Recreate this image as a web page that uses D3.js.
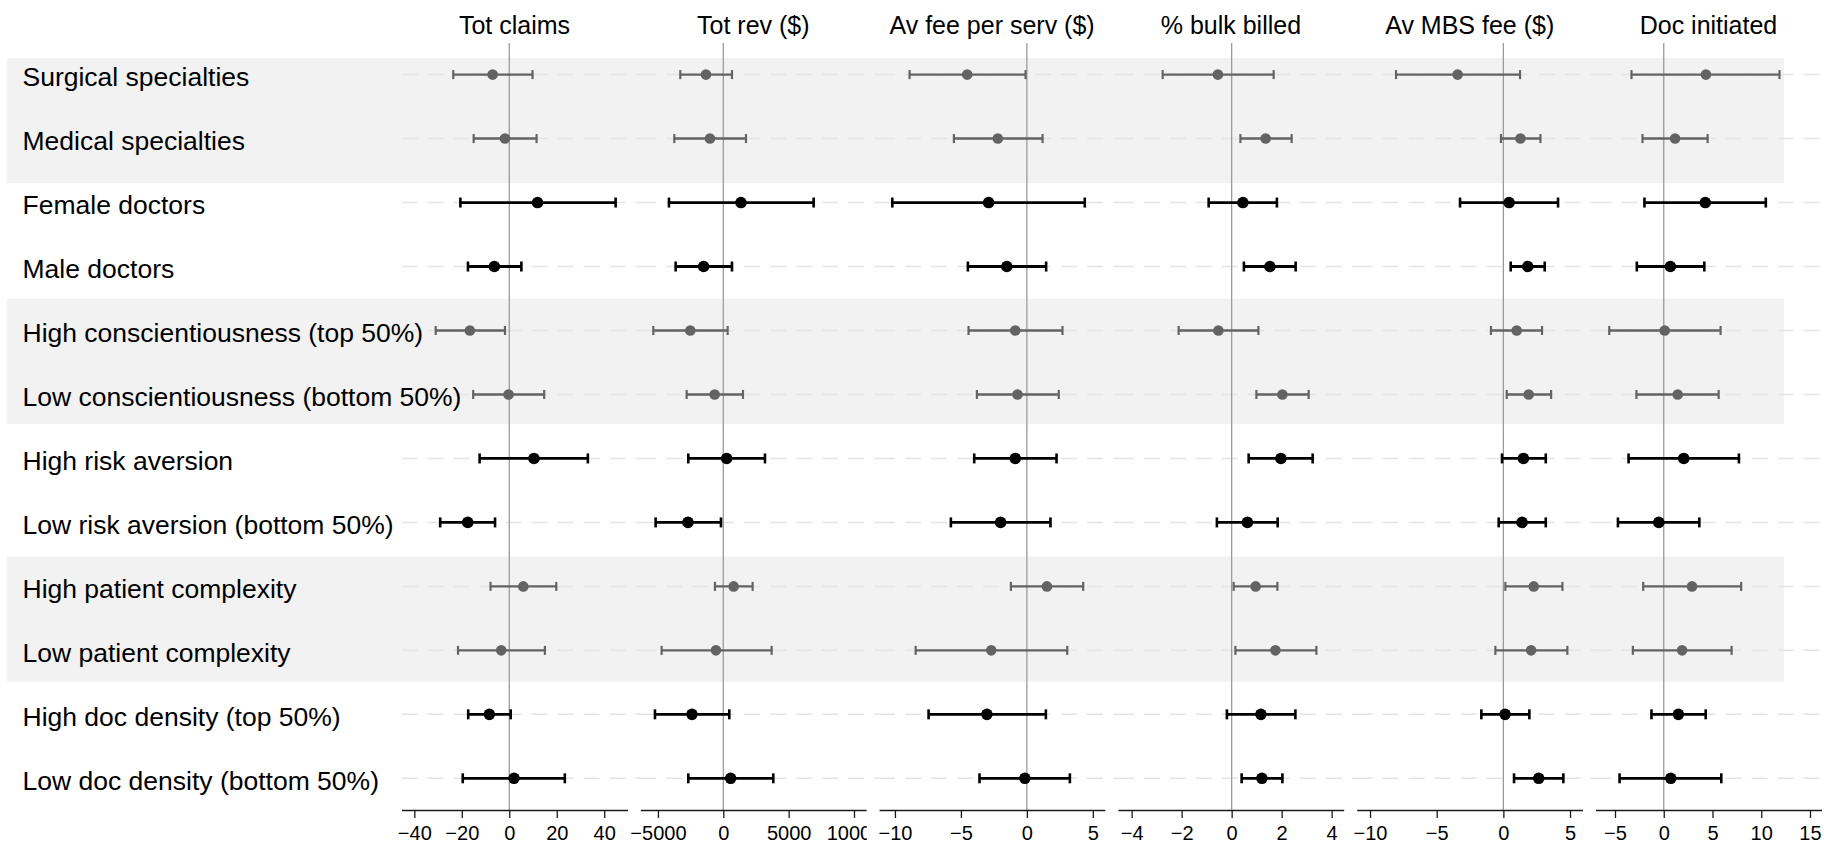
<!DOCTYPE html>
<html>
<head>
<meta charset="utf-8">
<script src="https://cdn.jsdelivr.net/npm/d3@7"></script>
<style>
  html, body { margin: 0; padding: 0; background: #fff; }
  svg { display: block; font-family: "Liberation Sans", Arial, Helvetica, sans-serif; }
</style>
</head>
<body>
<svg id="chart" width="1824" height="842"></svg>
<script>
// Subgroup labels, top to bottom
const groups = [
  "Surgical specialties",
  "Medical specialties",
  "Female doctors",
  "Male doctors",
  "High conscientiousness (top 50%)",
  "Low conscientiousness (bottom 50%)",
  "High risk aversion",
  "Low risk aversion (bottom 50%)",
  "High patient complexity",
  "Low patient complexity",
  "High doc density (top 50%)",
  "Low doc density (bottom 50%)"
];

// Which subgroups sit on a shaded band (drawn in grey)
const shaded = [true, true, false, false, true, true, false, false, true, true, false, false];

// Outcome panels
const outcomes = ["Tot claims", "Tot rev ($)", "Av fee per serv ($)", "% bulk billed", "Av MBS fee ($)", "Doc initiated"];

// Axis ranges and tick values for each outcome
const xDomains = [[-45.4, 49.8], [-6350, 10940], [-11.2, 5.93], [-4.55, 4.49], [-11.0, 5.95], [-7.0, 16.18]];
const tickValues = [
  [-40, -20, 0, 20, 40],
  [-5000, 0, 5000, 10000],
  [-10, -5, 0, 5],
  [-4, -2, 0, 2, 4],
  [-10, -5, 0, 5],
  [-5, 0, 5, 10, 15]
];

// Point estimates per outcome (one value per subgroup)
const estTotClaims = [-7.0, -1.8, 11.9, -6.3, -16.6, -0.3, 10.4, -17.5, 5.9, -3.4, -8.4, 2.0];
const estTotRev    = [-1326, -1020, 1352, -1505, -2525, -663, 255, -2703, 791, -561, -2397, 561];
const estAvFee     = [-4.52, -2.20, -2.90, -1.52, -0.88, -0.71, -0.88, -1.99, 1.52, -2.70, -3.03, -0.15];
const estBulk      = [-0.55, 1.36, 0.45, 1.53, -0.53, 2.03, 1.97, 0.63, 0.96, 1.75, 1.17, 1.21];
const estMBS       = [-3.43, 1.28, 0.43, 1.83, 1.00, 1.90, 1.50, 1.40, 2.28, 2.08, 0.13, 2.65];
const estDocInit   = [4.33, 1.16, 4.26, 0.68, 0.10, 1.43, 2.05, -0.51, 2.90, 1.88, 1.50, 0.72];

// Lower 95% confidence limits
const loTotClaims = [-23.6, -15.0, -20.6, -17.4, -31.0, -15.2, -12.5, -29.1, -7.9, -21.6, -17.3, -19.6];
const loTotRev    = [-3290, -3749, -4157, -3647, -5355, -2805, -2678, -5177, -638, -4718, -5228, -2678];
const loAvFee     = [-8.89, -5.53, -10.2, -4.47, -4.42, -3.79, -3.99, -5.76, -1.21, -8.43, -7.45, -3.59];
const loBulk      = [-2.76, 0.35, -0.92, 0.49, -2.12, 0.99, 0.68, -0.59, 0.08, 0.15, -0.19, 0.40];
const loMBS       = [-8.05, -0.18, -3.25, 0.55, -0.93, 0.25, -0.10, -0.35, 0.15, -0.60, -1.65, 0.80];
const loDocInit   = [-3.31, -2.18, -1.98, -2.76, -5.59, -2.80, -3.61, -4.70, -2.11, -3.17, -1.26, -4.53];

// Upper 95% confidence limits
const hiTotClaims = [9.8, 11.5, 44.8, 5.1, -1.8, 14.7, 33.1, -6.0, 19.8, 15.0, 0.6, 23.4];
const hiTotRev    = [663, 1734, 6911, 663, 332, 1505, 3188, -179, 2244, 3698, 459, 3825];
const hiAvFee     = [-0.10, 1.19, 4.39, 1.46, 2.70, 2.42, 2.25, 1.79, 4.27, 3.06, 1.44, 3.26];
const hiBulk      = [1.68, 2.40, 1.81, 2.56, 1.07, 3.08, 3.24, 1.84, 1.83, 3.39, 2.55, 2.03];
const hiMBS       = [1.25, 2.78, 4.10, 3.10, 2.90, 3.58, 3.18, 3.18, 4.43, 4.80, 1.95, 4.50];
const hiDocInit   = [11.87, 4.50, 10.47, 4.16, 5.83, 5.63, 7.71, 3.65, 7.94, 6.96, 4.30, 5.90];

const estimates = [estTotClaims, estTotRev, estAvFee, estBulk, estMBS, estDocInit];
const lowers    = [loTotClaims, loTotRev, loAvFee, loBulk, loMBS, loDocInit];
const uppers    = [hiTotClaims, hiTotRev, hiAvFee, hiBulk, hiMBS, hiDocInit];

// ---- layout ----
const panelLeft0 = 401.5, panelStep = 238.8, panelWidth = 226;
const axisY = 810, zeroTop = 43;
const labelX = 22.5;
const bandX0 = 7, bandX1 = 1784;
// shaded bands: [first row, last row, top offset, bottom offset]
const bandSpecs = [[0, 1, -16.6, 44.4], [4, 5, -32, 29.7], [8, 9, -30, 31.4]];

const greyMark = "#636363";
const svg = d3.select("#chart");

const y = d3.scalePoint().domain(groups).range([74.6, 778.3]);

// background bands
svg.append("g").selectAll("rect")
  .data(bandSpecs)
  .join("rect")
  .attr("x", bandX0)
  .attr("width", bandX1 - bandX0)
  .attr("y", d => y(groups[d[0]]) + d[2])
  .attr("height", d => (y(groups[d[1]]) + d[3]) - (y(groups[d[0]]) + d[2]))
  .attr("fill", "#f2f2f2");

const defs = svg.append("defs");
const panels = svg.append("g");

// row labels (drawn after the panels so they sit on top)
const labelLayer = svg.append("g");

outcomes.forEach((name, p) => {
  const x0 = panelLeft0 + p * panelStep;
  const x = d3.scaleLinear().domain(xDomains[p]).range([x0, x0 + panelWidth]);
  const g = panels.append("g");

  // dashed row guides
  g.append("g").selectAll("line")
    .data(groups)
    .join("line")
    .attr("x1", x0).attr("x2", x0 + panelWidth + (p === outcomes.length - 1 ? 2 : 13))
    .attr("y1", d => y(d)).attr("y2", d => y(d))
    .attr("stroke", "#e4e4e4")
    .attr("stroke-width", 1.5)
    .attr("stroke-dasharray", "16,10");

  // zero reference line
  g.append("line")
    .attr("x1", x(0)).attr("x2", x(0))
    .attr("y1", zeroTop).attr("y2", axisY)
    .attr("stroke", "#9a9a9a")
    .attr("stroke-width", 1.3);

  // panel title
  g.append("text")
    .attr("x", x0 + panelWidth / 2)
    .attr("y", 34.3)
    .attr("text-anchor", "middle")
    .attr("font-size", 25)
    .attr("fill", "#000")
    .text(name);

  // bottom axis, tick labels clipped to the panel
  const clipId = "clip" + p;
  defs.append("clipPath").attr("id", clipId)
    .append("rect")
    .attr("x", x0 - 20).attr("y", -5)
    .attr("width", panelWidth + 20.5).attr("height", 60);

  const ax = g.append("g")
    .attr("transform", `translate(0,${axisY})`)
    .attr("clip-path", `url(#${clipId})`)
    .call(d3.axisBottom(x).tickValues(tickValues[p]).tickSize(8).tickSizeOuter(0).tickFormat(d3.format("d")));
  ax.select(".domain").attr("stroke", "#1a1a1a").attr("stroke-width", 1.3);
  ax.selectAll(".tick line").attr("stroke", "#1a1a1a").attr("stroke-width", 1.3);
  ax.selectAll(".tick text")
    .attr("font-size", 20)
    .attr("font-family", "\"Liberation Sans\", Arial, sans-serif")
    .attr("fill", "#000")
    .attr("dy", null)
    .attr("y", 29.5);

  // confidence intervals and estimates
  const rows = groups.map((grp, i) => ({
    grp, est: estimates[p][i], lo: lowers[p][i], hi: uppers[p][i], grey: shaded[i]
  }));
  const marks = g.append("g").selectAll("g").data(rows).join("g");
  marks.append("line")
    .attr("x1", d => x(d.lo)).attr("x2", d => x(d.hi))
    .attr("y1", d => y(d.grp)).attr("y2", d => y(d.grp))
    .attr("stroke", d => d.grey ? greyMark : "#000")
    .attr("stroke-width", d => d.grey ? 2.4 : 2.8);
  ["lo", "hi"].forEach(k => {
    marks.append("line")
      .attr("x1", d => x(d[k])).attr("x2", d => x(d[k]))
      .attr("y1", d => y(d.grp) - (d.grey ? 4.5 : 5))
      .attr("y2", d => y(d.grp) + (d.grey ? 4.5 : 5))
      .attr("stroke", d => d.grey ? greyMark : "#000")
      .attr("stroke-width", d => d.grey ? 2.2 : 2.6);
  });
  marks.append("circle")
    .attr("cx", d => x(d.est))
    .attr("cy", d => y(d.grp))
    .attr("r", d => d.grey ? 5.3 : 5.8)
    .attr("fill", d => d.grey ? greyMark : "#000");
});

labelLayer.selectAll("text")
  .data(groups)
  .join("text")
  .attr("x", labelX)
  .attr("y", d => y(d) + 11.3)
  .attr("font-size", 26.5)
  .attr("fill", "#000")
  .text(d => d);
</script>
</body>
</html>
